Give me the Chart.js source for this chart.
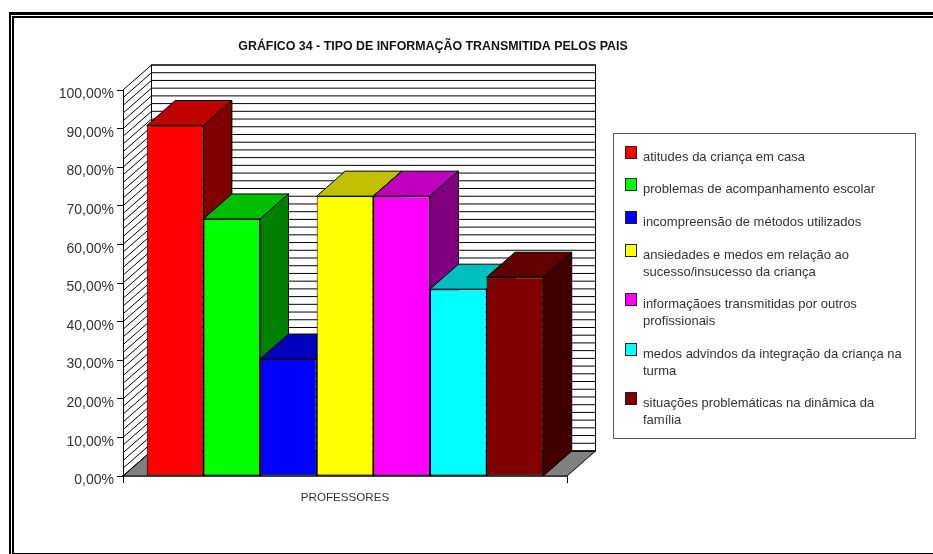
<!DOCTYPE html>
<html lang="pt">
<head>
  <meta charset="UTF-8">
  <title>Gráfico 34</title>
  <script src="https://cdn.jsdelivr.net/npm/chart.js"></script>
  <style>
    html, body { margin: 0; padding: 0; background: #fff; overflow: hidden; }
    canvas { display: block; }
  </style>
</head>
<body>
  <canvas id="chart34" width="933" height="554"></canvas>

  <script>
    const chartTitle = 'GRÁFICO 34 - TIPO DE INFORMAÇÃO TRANSMITIDA PELOS PAIS';
    const categories = ['PROFESSORES'];
    const seriesNames = [
      ['atitudes da criança em casa'],
      ['problemas de acompanhamento escolar'],
      ['incompreensão de métodos utilizados'],
      ['ansiedades e medos em relação ao', 'sucesso/insucesso da criança'],
      ['informaçãoes transmitidas por outros', 'profissionais'],
      ['medos advindos da integração da criança na', 'turma'],
      ['situações problemáticas na dinâmica da', 'família']
    ];
    const seriesValues = [90.8, 66.6, 30.3, 72.5, 72.5, 48.4, 51.5];
    const frontColors = ['#ff0000', '#00ff00', '#0000ff', '#ffff00', '#ff00ff', '#00ffff', '#800000'];
    const topColors = ['#bf0000', '#00bf00', '#0000bf', '#bfbf00', '#bf00bf', '#00bfbf', '#600000'];
    const sideColors = ['#800000', '#008000', '#000080', '#808000', '#800080', '#008080', '#400000'];
    const yTickLabels = ['0,00%', '10,00%', '20,00%', '30,00%', '40,00%', '50,00%', '60,00%', '70,00%', '80,00%', '90,00%', '100,00%'];

    // depth of the fake 3D box, in pixels
    const depthX = 28.5;
    const depthY = 25;

    function poly(ctx, pts, fill) {
      ctx.beginPath();
      pts.forEach((p, i) => i ? ctx.lineTo(p[0], p[1]) : ctx.moveTo(p[0], p[1]));
      ctx.closePath();
      if (fill) {
        ctx.fillStyle = fill;
        ctx.fill();
      }
      ctx.stroke();
    }

    // Double frame round the page, open on the right like the original
    const framePlugin = {
      id: 'frame',
      beforeDraw(chart) {
        const ctx = chart.ctx;
        ctx.save();
        ctx.fillStyle = '#000';
        ctx.fillRect(9, 12, 924, 3);
        ctx.fillRect(12, 16, 921, 2);
        ctx.fillRect(9, 12, 2, 542);
        ctx.fillRect(12, 16, 2, 537);
        ctx.fillRect(12, 553, 921, 1);
        ctx.restore();
      }
    };

    // Walls, floor and the top and side faces of the bars.
    // Runs before the datasets so the library's bars sit in front.
    const box3dPlugin = {
      id: 'box3d',
      beforeDatasetsDraw(chart) {
        const ctx = chart.ctx;
        const { left, right } = chart.chartArea;
        const yScale = chart.scales.y;
        const y0 = yScale.getPixelForValue(0);
        const y100 = yScale.getPixelForValue(100);
        ctx.save();
        ctx.strokeStyle = '#000';
        ctx.lineWidth = 1;

        poly(ctx, [[left, y0], [left + depthX, y0 - depthY], [right + depthX, y0 - depthY], [right, y0]], '#808080');
        ctx.strokeRect(left + depthX, y100 - depthY, right - left, y0 - y100);

        for (let v = 0; v <= 100; v += 2) {
          const y = yScale.getPixelForValue(v);
          ctx.beginPath();
          ctx.moveTo(left, y);
          ctx.lineTo(left + depthX, y - depthY);
          ctx.lineTo(right + depthX, y - depthY);
          ctx.stroke();
        }

        chart.data.datasets.forEach((ds, i) => {
          const bar = chart.getDatasetMeta(i).data[0];
          const xl = bar.x - bar.width / 2;
          const xr = bar.x + bar.width / 2;
          poly(ctx, [[xl, bar.y], [xl + depthX, bar.y - depthY], [xr + depthX, bar.y - depthY], [xr, bar.y]], topColors[i]);
          poly(ctx, [[xr, bar.y], [xr + depthX, bar.y - depthY], [xr + depthX, y0 - depthY], [xr, y0]], sideColors[i]);
        });
        ctx.restore();
      }
    };

    // Legend with wrapped labels, the built-in one can't lay these out
    const legendPlugin = {
      id: 'wrappedLegend',
      afterDraw(chart) {
        const ctx = chart.ctx;
        const boxLeft = 613, boxTop = 133, boxWidth = 302, boxHeight = 305;
        const rowTops = [146, 178, 211, 244, 293, 343, 392];
        ctx.save();
        ctx.strokeStyle = '#555';
        ctx.lineWidth = 1;
        ctx.strokeRect(boxLeft + 0.5, boxTop + 0.5, boxWidth, boxHeight);
        ctx.font = '13px "Liberation Sans"';
        ctx.textBaseline = 'alphabetic';
        seriesNames.forEach((lines, i) => {
          ctx.fillStyle = frontColors[i];
          ctx.strokeStyle = '#222';
          ctx.fillRect(625, rowTops[i], 12, 13);
          ctx.strokeRect(625.5, rowTops[i] + 0.5, 11, 12);
          ctx.fillStyle = '#333';
          lines.forEach((line, j) => ctx.fillText(line, 643, rowTops[i] + 15 + j * 16.5));
        });
        ctx.restore();
      }
    };

    const chart = new Chart(document.getElementById('chart34').getContext('2d'), {
      type: 'bar',
      data: {
        labels: categories,
        datasets: seriesNames.map((name, i) => ({
          label: name.join(' '),
          data: [seriesValues[i]],
          backgroundColor: frontColors[i],
          borderColor: '#000',
          borderWidth: 1,
          borderSkipped: false,
          categoryPercentage: 0.893,
          barPercentage: 1
        }))
      },
      options: {
        responsive: false,
        animation: false,
        layout: { padding: { left: 0, right: 366, top: 0, bottom: 0 } },
        plugins: {
          legend: { display: false },
          tooltip: { enabled: false },
          title: {
            display: true,
            text: chartTitle,
            color: '#111',
            font: { family: '"Liberation Sans"', size: 12.4, weight: 'bold', lineHeight: 1 },
            padding: { top: 40, bottom: 37.6 }
          }
        },
        scales: {
          x: {
            afterFit(scale) { scale.height = 78; },
            border: { color: '#000', width: 1.5 },
            grid: { display: true, drawOnChartArea: false, color: '#000', tickLength: 7 },
            ticks: { color: '#333', padding: 8, font: { family: '"Liberation Sans"', size: 11.6 } }
          },
          y: {
            min: 0,
            max: 100,
            afterFit(scale) { scale.width = 123; },
            border: { color: '#000', width: 1 },
            grid: { drawOnChartArea: false, color: '#000', tickLength: 6 },
            ticks: {
              stepSize: 10,
              color: '#333',
              padding: 3,
              font: { family: '"Liberation Sans"', size: 14, lineHeight: 0.62 },
              // labels sit a little under their tick in the original, the empty line pushes them down
              callback: (value, index) => ['', yTickLabels[index]]
            }
          }
        }
      },
      plugins: [framePlugin, box3dPlugin, legendPlugin, {
        id: 'titleCentre',
        afterLayout(c) {
          // title is centred over the whole picture, not the plot
          c.titleBlock.left = 0;
          c.titleBlock.right = 866;
        }
      }]
    });
  </script>
</body>
</html>
